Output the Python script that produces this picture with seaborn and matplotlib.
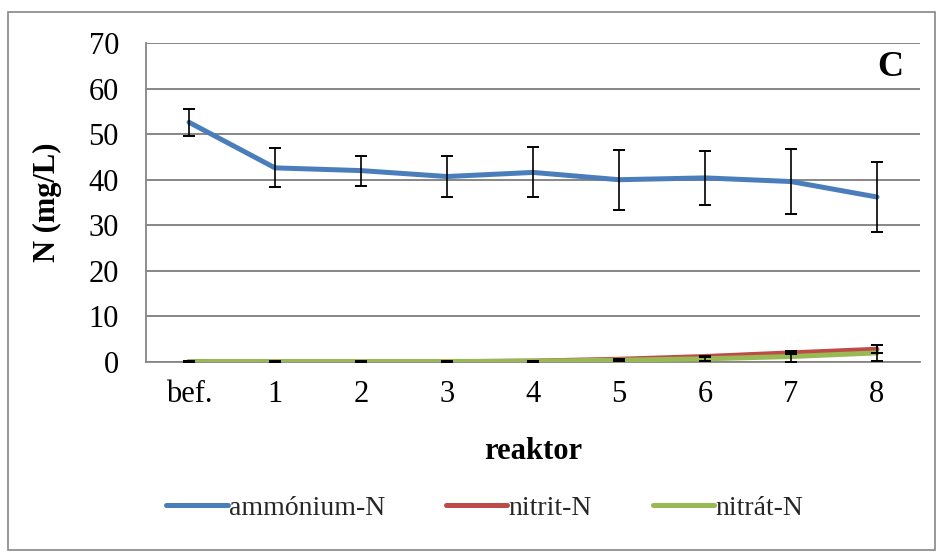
import matplotlib
matplotlib.use("Agg")
import matplotlib.pyplot as plt
import seaborn as sns
import pandas as pd
import numpy as np
from matplotlib.patches import Rectangle

categories = ["bef.", "1", "2", "3", "4", "5", "6", "7", "8"]
ammonium = [52.6, 42.6, 42.0, 40.7, 41.6, 40.0, 40.4, 39.6, 36.2]
ammonium_err = [3.0, 4.3, 3.3, 4.5, 5.5, 6.6, 6.0, 7.1, 7.6]
nitrit = [0.1, 0.05, 0.0, 0.05, 0.2, 0.6, 1.2, 2.0, 2.8]
nitrit_err = [0.1, 0.05, 0.05, 0.05, 0.1, 0.1, 0.2, 0.3, 0.9]
nitrat = [0.1, 0.1, 0.1, 0.1, 0.2, 0.4, 0.7, 1.2, 2.0]
nitrat_err = [0.1, 0.05, 0.05, 0.05, 0.1, 0.2, 0.4, 1.2, 1.8]
series_names = ["ammónium-N", "nitrit-N", "nitrát-N"]
colors = ["#4A7EBB", "#BE4B48", "#98B954"]

sns.set_theme(style="white")
plt.rcParams["font.family"] = ["Liberation Serif", "DejaVu Serif"]

rows = []
for name, vals in zip(series_names, [ammonium, nitrit, nitrat]):
    for i, v in enumerate(vals):
        rows.append({"reaktor": i, "N": v, "series": name})
df = pd.DataFrame(rows)

fig = plt.figure(figsize=(9.37, 5.54), dpi=100)
ax = fig.add_axes([146/937, 1-362/554, (920-146)/937, (362-43)/554])

sns.lineplot(data=df, x="reaktor", y="N", hue="series", palette=colors,
             hue_order=series_names, linewidth=3.6, ax=ax, legend=True, zorder=3)

x = np.arange(len(categories))
for vals, errs in zip([ammonium, nitrit, nitrat], [ammonium_err, nitrit_err, nitrat_err]):
    ax.errorbar(x, vals, yerr=errs, fmt="none", ecolor="black", elinewidth=1.2,
                capsize=4.5, capthick=1.4, zorder=4)

ax.set_xlim(-0.5, 8.5)
ax.set_ylim(0, 70)
ax.set_yticks(range(0, 71, 10))
ax.set_xticks(x)
ax.set_xticklabels(categories)
ax.set_xticks(np.arange(-0.5, 9, 1), minor=True)
ax.tick_params(axis="x", which="major", length=0, pad=13, labelsize=22, colors="black")
ax.tick_params(axis="x", which="minor", length=6, width=1.3, color="#868686", direction="out")
ax.tick_params(axis="y", length=6.5, width=1.3, color="#868686", direction="out", labelsize=22, pad=13)
for lab in ax.get_yticklabels() + ax.get_xticklabels():
    lab.set_color("black")

ax.grid(axis="y", color="#868686", linewidth=1.4)
ax.set_axisbelow(True)
for s in ["top", "right"]:
    ax.spines[s].set_visible(False)
for s in ["left", "bottom"]:
    ax.spines[s].set_color("#868686")
    ax.spines[s].set_linewidth(1.3)

ax.set_xlabel("reaktor", fontsize=22, fontweight="bold", labelpad=20, color="black")
ax.set_ylabel("N (mg/L)", fontsize=22, fontweight="bold", labelpad=19, color="black")

ax.text(890/937, 1-68/554, "C", transform=fig.transFigure, ha="center", va="center",
        fontsize=26, fontweight="bold", color="black")

handles, labels = ax.get_legend_handles_labels()
ax.legend(handles, labels, loc="center", bbox_to_anchor=(485/937, 1-508/554),
          bbox_transform=fig.transFigure, ncol=3, frameon=False, fontsize=20,
          handlelength=2.2, handletextpad=0.05, columnspacing=2.2)
for h in ax.get_legend().get_lines():
    h.set_linewidth(3.6)

fig.patches.append(Rectangle((8/937, 1-550/554), (935-8)/937, (550-12)/554,
                             transform=fig.transFigure, fill=False,
                             edgecolor="#868686", linewidth=1.2))

fig.savefig("out.png", dpi=100)
